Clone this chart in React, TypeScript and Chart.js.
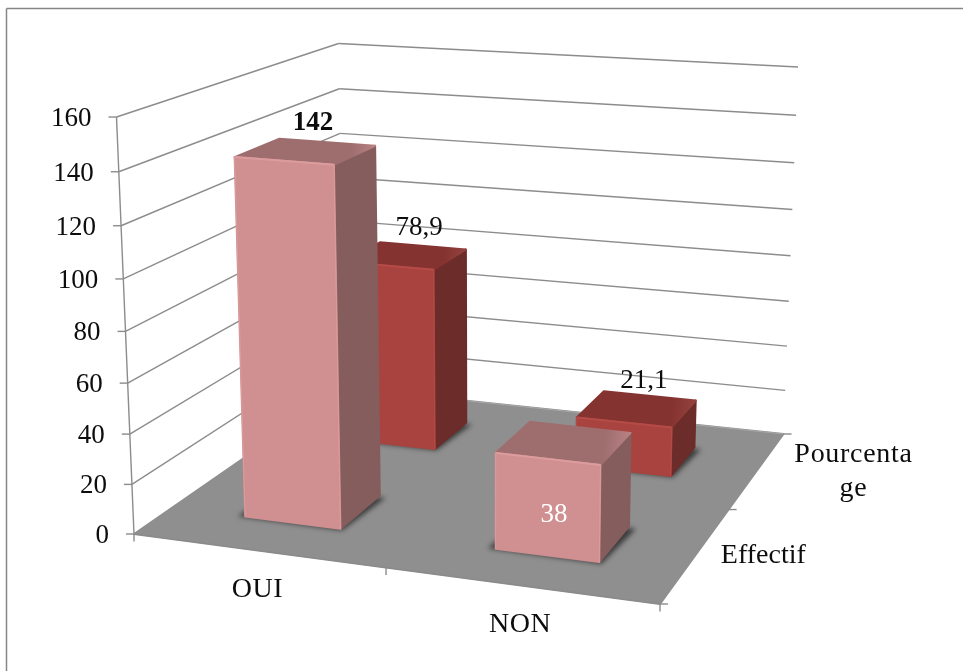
import React, { useEffect, useRef } from "react";
import { Chart, registerables } from "chart.js";

Chart.register(...registerables);

const categories = ["OUI", "NON"];
const seriesNames = ["Effectif", "Pourcentage"];
const effectifValues = [142, 38];
const pourcentageValues = [78.9, 21.1];
const depthTickLines = [["Effectif"], ["Pourcenta", "ge"]];
const yMax = 160;
const yStep = 20;

type Pt = [number, number];

// Camera: the 8 corners of the 3D plot box, with foreshortening per axis
const BOX = {
  floor: [[134, 534], [660, 604], [783.5, 434], [345, 388]] as Pt[],
  ceil: [[116.5, 117], [668, 158], [798, 67], [338.5, 43.5]] as Pt[],
};
const KU = 0.92, KV = 1.25, KW = 0.945;
const warp = (t: number, k: number) => (k * t) / (1 + (k - 1) * t);

function project(u: number, v: number, w: number): Pt {
  const U = warp(u, KU), V = warp(v, KV), W = warp(w, KW);
  const plane = (q: Pt[]): Pt => {
    const a: Pt = [q[0][0] + (q[1][0] - q[0][0]) * U, q[0][1] + (q[1][1] - q[0][1]) * U];
    const b: Pt = [q[3][0] + (q[2][0] - q[3][0]) * U, q[3][1] + (q[2][1] - q[3][1]) * U];
    return [a[0] + (b[0] - a[0]) * V, a[1] + (b[1] - a[1]) * V];
  };
  const f = plane(BOX.floor), c = plane(BOX.ceil);
  return [f[0] + (c[0] - f[0]) * W, f[1] + (c[1] - f[1]) * W];
}

const FONT = '27px "Liberation Serif"';
const WORD_FONT = '28px "Liberation Serif"';
const BOLD = 'bold 27px "Liberation Serif"';
const INK = "#0d0d0d";
const LINE = "#8c8c8c";
const FLOOR = "#8f8f8f";
const STYLES = [
  { front: "#d08f90", hi: "#dc9c9d", top: "#9e6d6e", topHi: "#b98283", side: "#855d5c" },
  { front: "#a8433f", hi: "#b54b47", top: "#843330", topHi: "#93423e", side: "#6c2c29" },
];
// label offset from the projected centre of the bar's top, per series and category
const LABEL_OFFSET: Pt[][] = [
  [[7, -28], [-10, 72]],
  [[13, -28], [7, -28]],
];
const LABEL_BOLD = [[true, false], [false, false]];
const LABEL_COLOR = [[INK, "#ffffff"], [INK, INK]];
const DEPTH_DX = [67, 96];
const DEPTH_SPACING = ["0px", "0.7px"];

function poly(ctx: CanvasRenderingContext2D, pts: Pt[]) {
  ctx.beginPath();
  pts.forEach((p, i) => (i ? ctx.lineTo(p[0], p[1]) : ctx.moveTo(p[0], p[1])));
  ctx.closePath();
}
function face(ctx: CanvasRenderingContext2D, pts: Pt[], fill: string | CanvasGradient) {
  poly(ctx, pts);
  ctx.fillStyle = fill;
  ctx.strokeStyle = fill;
  ctx.lineWidth = 2;
  ctx.lineJoin = "round";
  ctx.fill();
  ctx.stroke();
}
function seg(ctx: CanvasRenderingContext2D, a: Pt, b: Pt, color = LINE, width = 1.4) {
  ctx.beginPath();
  ctx.moveTo(a[0], a[1]);
  ctx.lineTo(b[0], b[1]);
  ctx.strokeStyle = color;
  ctx.lineWidth = width;
  ctx.stroke();
}
function text(ctx: CanvasRenderingContext2D, s: string, x: number, y: number, font = FONT, color = INK, align: CanvasTextAlign = "center", spacing = "0px") {
  ctx.font = font;
  ctx.fillStyle = color;
  ctx.textAlign = align;
  ctx.textBaseline = "middle";
  (ctx as any).letterSpacing = spacing;
  ctx.fillText(s, x, y);
  (ctx as any).letterSpacing = "0px";
}

const box3d = {
  id: "box3d",
  beforeDatasetsDraw(chart: any) {
    const ctx: CanvasRenderingContext2D = chart.ctx;
    const { left, bottom, width: W, height: H } = chart.chartArea;
    const ys = chart.scales.y, xs = chart.scales.x, ds = chart.scales.depth;
    const uOf = (px: number) => (px - left) / W;
    const wOf = (px: number) => (bottom - px) / H;
    const vOf = (px: number) => (px - ds.left) / ds.width;

    ctx.save();
    // picture frame
    seg(ctx, [6.5, 671], [6.5, 8.5], "#868686", 1.5);
    seg(ctx, [6.5, 8.5], [963, 8.5], "#868686", 1.5);

    // walls
    ys.ticks.forEach((t: any) => {
      const w = wOf(ys.getPixelForValue(t.value));
      const a = project(0, 0, w);
      if (t.value !== 0) {
        seg(ctx, a, project(0, 1, w));
        seg(ctx, project(0, 1, w), project(1, 1, w));
      }
      seg(ctx, [a[0] - 8, a[1]], a);
      text(ctx, String(t.value), a[0] - 25, a[1] + 2, FONT, INK, "right");
    });
    seg(ctx, project(0, 0, 0), project(0, 0, 1));

    // floor
    face(ctx, [project(0, 0, 0), project(1, 0, 0), project(1, 1, 0), project(0, 1, 0)], FLOOR);
    seg(ctx, project(0, 1, 0), project(1, 1, 0), "#a8a8a8", 1);
    seg(ctx, project(0, 0, 0), project(1, 0, 0), "#8a8a8a", 1);

    // category axis
    const nCat = categories.length;
    for (let i = 0; i <= nCat; i++) {
      const p = project(i / nCat, 0, 0);
      seg(ctx, p, [p[0], p[1] + 7.5]);
    }
    categories.forEach((c, i) => {
      const p = project(uOf(xs.getPixelForTick(i)), 0, 0);
      text(ctx, c, p[0], p[1] + 39.5, WORD_FONT, INK, "center", "0.5px");
    });
    // depth axis
    const nSer = seriesNames.length;
    for (let i = 0; i <= nSer; i++) {
      const p = project(1, i / nSer, 0);
      seg(ctx, p, [p[0] + 8, p[1]]);
    }
    depthTickLines.forEach((lines, i) => {
      const p = project(1, vOf(ds.getPixelForTick(i)), 0);
      lines.forEach((l, k) => {
        const y = p[1] + 2 + (k - (lines.length - 1) / 2) * 34;
        text(ctx, l, p[0] + DEPTH_DX[i], y, WORD_FONT, INK, "center", DEPTH_SPACING[i]);
      });
    });

    // bars, back series first
    const labels: (() => void)[] = [];
    for (let di = chart.data.datasets.length - 1; di >= 0; di--) {
      const meta = chart.getDatasetMeta(di);
      const style = STYLES[di];
      const vc = vOf(ds.getPixelForTick(di));
      const vh = (chart.data.datasets[di].barPercentage / nSer) / 2;
      const v0 = vc - vh, v1 = vc + vh;
      meta.data.forEach((el: any, ci: number) => {
        const u0 = uOf(el.x - el.width / 2), u1 = uOf(el.x + el.width / 2);
        const top = wOf(el.y), base = wOf(el.base);
        const P = (u: number, v: number, w: number) => project(u, v, w);

        // soft contact shadow
        ctx.save();
        (ctx as any).filter = "blur(2.5px)";
        ctx.fillStyle = "rgba(55,55,55,0.95)";
        poly(ctx, [P(u0 - 0.014, v0 - 0.003, base), P(u1 + 0.006, v0 - 0.006, base), P(u1 + 0.016, v1 - 0.01, base), P(u0, v1, base)]);
        ctx.fill();
        ctx.restore();

        // side, top, front
        face(ctx, [P(u1, v0, base), P(u1, v1, base), P(u1, v1, top), P(u1, v0, top)], style.side);
        const a = P(u0, v1, top), b = P(u1, v1, top);
        const g = ctx.createLinearGradient(a[0], a[1], b[0], b[1]);
        g.addColorStop(0, style.top);
        g.addColorStop(0.75, style.top);
        g.addColorStop(1, style.topHi);
        face(ctx, [P(u0, v0, top), P(u1, v0, top), b, a], g);
        face(ctx, [P(u0, v0, base), P(u1, v0, base), P(u1, v0, top), P(u0, v0, top)], style.front);
        seg(ctx, P(u0, v0, top), P(u1, v0, top), style.hi, 2);
        seg(ctx, P(u0, v0, base), P(u0, v0, top), style.hi, 1);
        seg(ctx, P(u1, v0, base), P(u1, v0, top), style.hi, 1);

        const value = chart.data.datasets[di].data[ci];
        const c = P((u0 + u1) / 2, (v0 + v1) / 2, top);
        const off = LABEL_OFFSET[di][ci];
        labels.push(() =>
          text(ctx, String(value).replace(".", ","), c[0] + off[0], c[1] + off[1],
            LABEL_BOLD[di][ci] ? BOLD : FONT, LABEL_COLOR[di][ci]));
      });
    }
    labels.forEach((f) => f());
    ctx.restore();
    return false; // the bars above replace the flat ones
  },
};

export default function App() {
  const ref = useRef<HTMLCanvasElement>(null);
  useEffect(() => {
    const chart = new Chart(ref.current as HTMLCanvasElement, {
      type: "bar",
      data: {
        labels: categories,
        datasets: [
          { label: seriesNames[0], data: effectifValues, backgroundColor: STYLES[0].front, barPercentage: 0.39, categoryPercentage: 1, grouped: false } as any,
          { label: seriesNames[1], data: pourcentageValues, backgroundColor: STYLES[1].front, barPercentage: 0.39, categoryPercentage: 1, grouped: false } as any,
        ],
      },
      options: {
        animation: false,
        responsive: false,
        events: [],
        layout: { padding: { left: 116, top: 117, right: 303, bottom: 137 } },
        plugins: { legend: { display: false }, tooltip: { enabled: false } },
        scales: {
          x: { type: "category", display: false },
          y: { type: "linear", display: false, min: 0, max: yMax, ticks: { stepSize: yStep } },
          depth: { type: "category", axis: "x", labels: seriesNames, offset: true, display: false },
        },
      } as any,
      plugins: [box3d as any],
    });
    return () => chart.destroy();
  }, []);
  return (
    <canvas
      ref={ref}
      width={963}
      height={671}
      style={{ position: "fixed", left: 0, top: 0, width: 963, height: 671, display: "block", background: "#ffffff" }}
    />
  );
}
